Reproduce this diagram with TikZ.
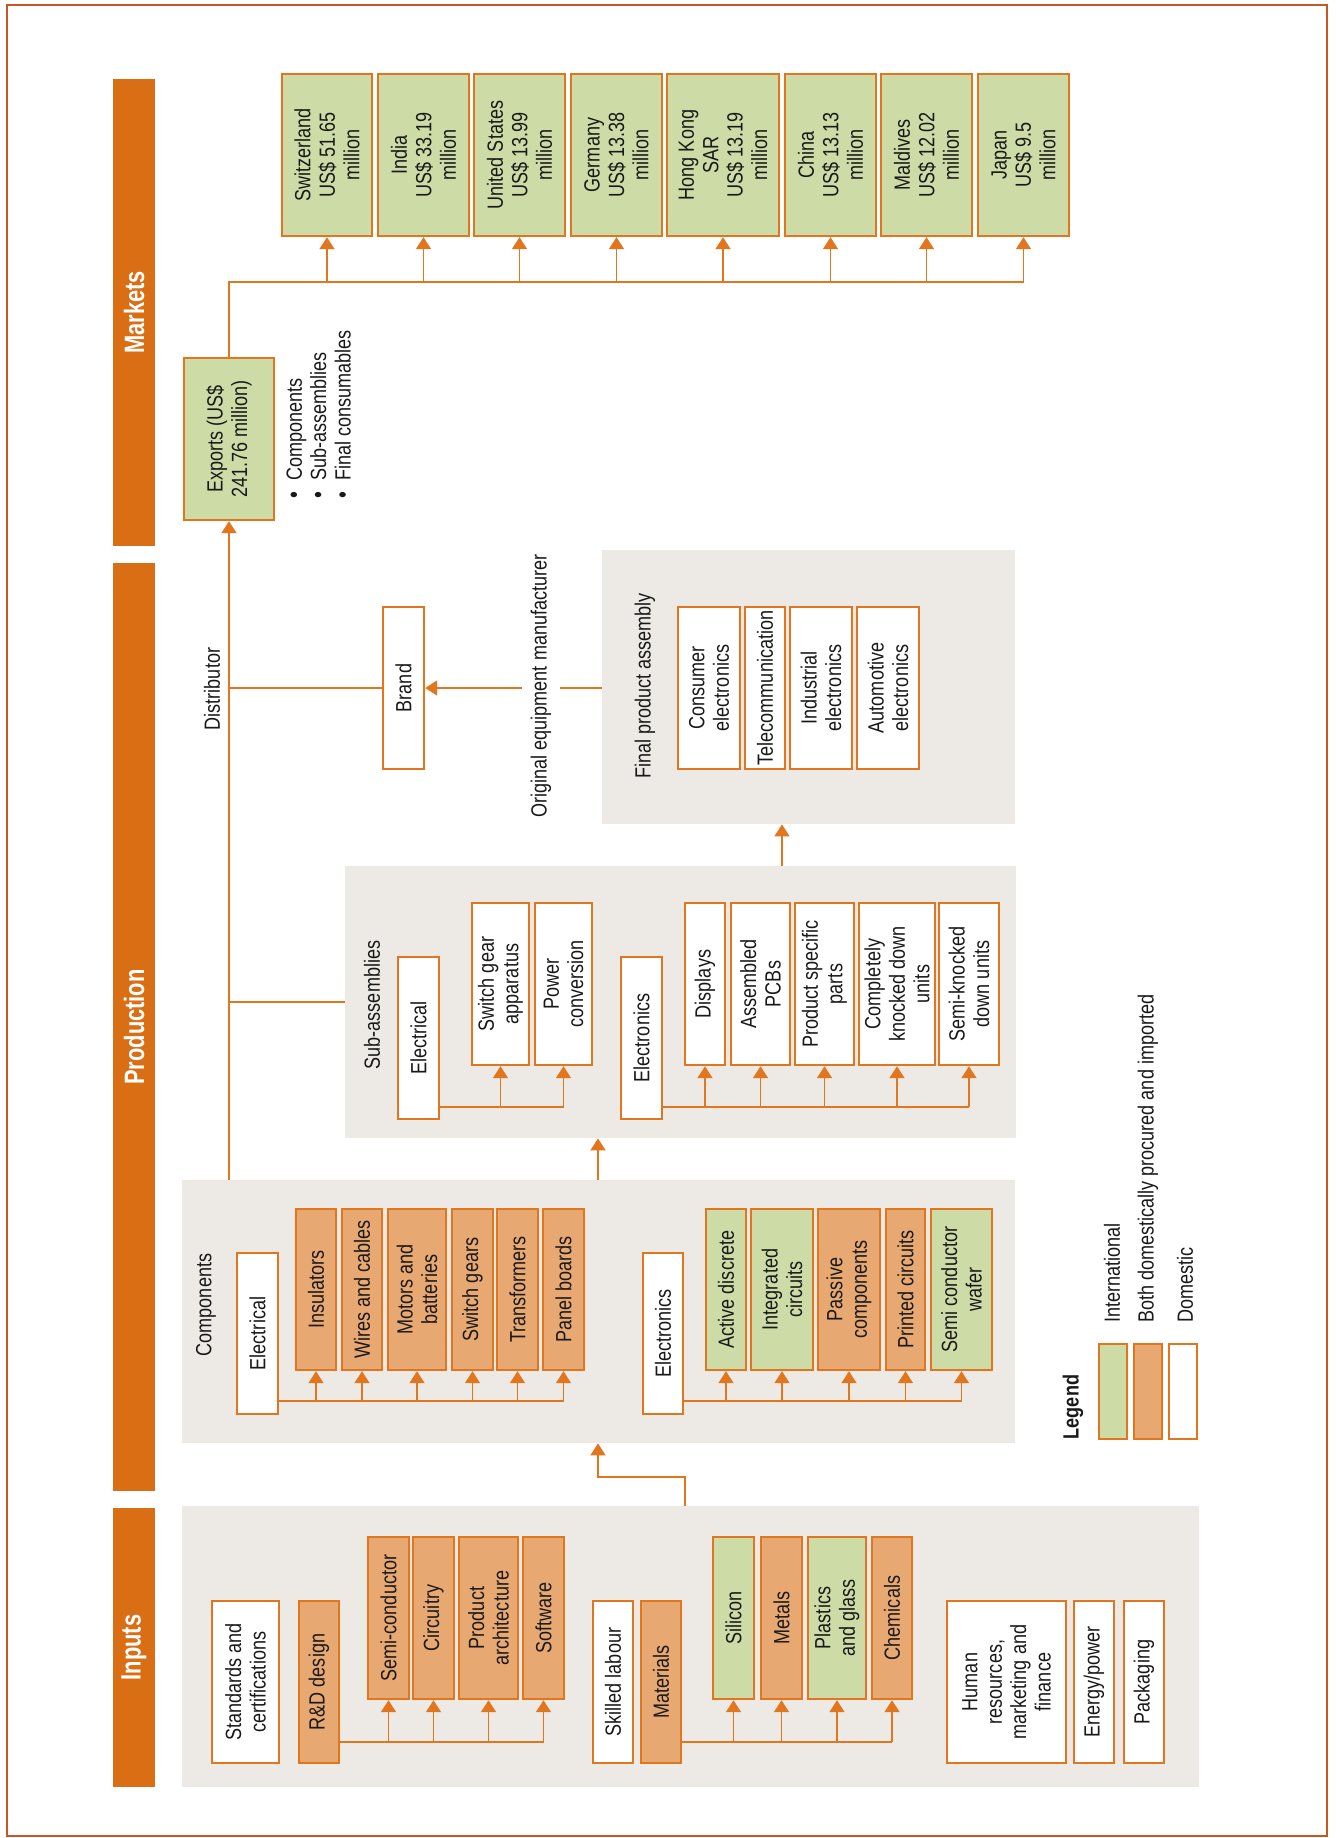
\documentclass[tikz,border=0pt]{standalone}
\usepackage{fontspec}
\setmainfont{Liberation Sans}[FakeStretch=0.82]
\newfontfamily\bandfont{Liberation Sans}[FakeStretch=0.78]
\usetikzlibrary{arrows.meta}
\definecolor{ora}{RGB}{226,118,30}
\definecolor{bandc}{RGB}{217,110,20}
\definecolor{frm}{RGB}{200,88,35}
\definecolor{grn}{RGB}{205,220,166}
\definecolor{org}{RGB}{232,168,114}
\definecolor{pnl}{RGB}{237,234,229}
\definecolor{txt}{RGB}{25,25,25}
\newcommand{\bx}[7]{\node[#6, minimum width={(#5-#3)*0.5pt}, minimum height={(#4-#2)*0.5pt}] (#1) at ({(#2+#4)/2},{(#3+#5)/2}) {#7};}
\newcommand{\pn}[5]{\node[panel, minimum width={(#4-#2)*0.5pt}, minimum height={(#5-#3)*0.5pt}] (#1) at ({(#2+#4)/2},{(#3+#5)/2}) {};}
\tikzset{
 txtf/.style={font=\fontsize{11}{12.2}\selectfont, text=txt},
 bxs/.style={draw=ora, line width=1.2pt, rotate=90, inner sep=0pt, align=center, txtf},
 wb/.style={bxs, fill=white},
 gb/.style={bxs, fill=grn},
 ob/.style={bxs, fill=org},
 panel/.style={fill=pnl, inner sep=0pt},
 bandn/.style={fill=bandc, inner sep=0pt, rotate=90, text=white, font=\bandfont\bfseries\fontsize{14}{16}\selectfont},
 conn/.style={draw=ora, line width=0.8pt},
 arr/.style={conn, -{Triangle[length=6pt,width=7.5pt]}},
 lbl/.style={rotate=90, align=center, inner sep=0pt, txtf},
}
\begin{document}
\begin{tikzpicture}[x=0.5pt,y=-0.5pt]
\useasboundingbox (0,0) rectangle (1335,1838);
\fill[white] (0,0) rectangle (1335,1838);
\draw[draw=frm, line width=1.2pt] (7,5) rectangle (1327,1836);

% bands
\bx{bmk}{113}{79}{155}{546}{bandn}{Markets}
\bx{bpr}{113}{563}{155}{1491}{bandn}{Production}
\bx{bin}{113}{1508}{155}{1787}{bandn}{Inputs}

% panels
\pn{pfin}{602}{550}{1015}{824}
\pn{psub}{345}{866}{1016}{1138}
\pn{pcomp}{182}{1180}{1015}{1443}
\pn{pin}{182}{1506}{1199}{1787}

% markets
\bx{ch}{282}{74}{372}{236}{gb}{Switzerland\\US\$ 51.65\\million}
\bx{ind}{378}{74}{469}{236}{gb}{India\\US\$ 33.19\\million}
\bx{us}{474}{74}{565}{236}{gb}{United States\\US\$ 13.99\\million}
\bx{de}{571}{74}{662}{236}{gb}{Germany\\US\$ 13.38\\million}
\bx{hk}{667}{74}{779}{236}{gb}{Hong Kong\\SAR\\US\$ 13.19\\million}
\bx{cn}{785}{74}{876}{236}{gb}{China\\US\$ 13.13\\million}
\bx{mv}{881}{74}{972}{236}{gb}{Maldives\\US\$ 12.02\\million}
\bx{jp}{978}{74}{1069}{236}{gb}{Japan\\US\$ 9.5\\million}
\bx{exp}{184}{358}{274}{520}{gb}{Exports (US\$\\241.76 million)}
\node[lbl, anchor=north west, align=left] (bul) at (286,499) {{\large\textbullet}\enspace Components\\{\large\textbullet}\enspace Sub-assemblies\\{\large\textbullet}\enspace Final consumables};

% production: final
\bx{brand}{383}{607}{424}{769}{wb}{Brand}
\node[lbl] (finl) at (645,686) {Final product assembly};
\bx{cons}{678}{607}{740}{769}{wb}{Consumer\\electronics}
\bx{tele}{745}{607}{785}{769}{wb}{Telecommunication}
\bx{indu}{790}{607}{852}{769}{wb}{Industrial\\electronics}
\bx{auto}{857}{607}{919}{769}{wb}{Automotive\\electronics}

% sub-assemblies
\node[lbl] (subl) at (372,1005) {Sub-assemblies};
\bx{sel}{398}{957}{439}{1119}{wb}{Electrical}
\bx{swa}{472}{903}{529}{1065}{wb}{Switch gear\\apparatus}
\bx{pwc}{535}{903}{592}{1065}{wb}{Power\\conversion}
\bx{sen}{621}{957}{662}{1119}{wb}{Electronics}
\bx{dsp}{685}{903}{725}{1065}{wb}{Displays}
\bx{pcb}{731}{903}{790}{1065}{wb}{Assembled\\PCBs}
\bx{psp}{795}{903}{854}{1065}{wb}{Product specific\\parts}
\bx{ckd}{859}{903}{935}{1065}{wb}{Completely\\knocked down\\units}
\bx{skd}{939}{903}{999}{1065}{wb}{Semi-knocked\\down units}

% components
\node[lbl] (compl) at (206,1305) {Components};
\bx{cel}{237}{1253}{278}{1414}{wb}{Electrical}
\bx{ins}{296}{1209}{336}{1370}{ob}{Insulators}
\bx{wir}{342}{1209}{382}{1370}{ob}{Wires and cables}
\bx{mot}{388}{1209}{446}{1370}{ob}{Motors and\\batteries}
\bx{swg}{452}{1209}{493}{1370}{ob}{Switch gears}
\bx{trf}{497}{1209}{538}{1370}{ob}{Transformers}
\bx{pnb}{543}{1209}{584}{1370}{ob}{Panel boards}
\bx{cen}{643}{1253}{683}{1414}{wb}{Electronics}
\bx{act}{706}{1209}{746}{1370}{gb}{Active discrete}
\bx{ic}{751}{1209}{813}{1370}{gb}{Integrated\\circuits}
\bx{pas}{818}{1209}{880}{1370}{ob}{Passive\\components}
\bx{prc}{886}{1209}{925}{1370}{ob}{Printed circuits}
\bx{scw}{931}{1209}{992}{1370}{gb}{Semi conductor\\wafer}

% inputs
\bx{std}{212}{1601}{279}{1763}{wb}{Standards and\\certifications}
\bx{rd}{299}{1601}{339}{1763}{ob}{R\&D design}
\bx{smc}{368}{1537}{409}{1699}{ob}{Semi-conductor}
\bx{cir}{413}{1537}{454}{1699}{ob}{Circuitry}
\bx{par}{459}{1537}{518}{1699}{ob}{Product\\architecture}
\bx{sof}{523}{1537}{564}{1699}{ob}{Software}
\bx{skl}{593}{1601}{633}{1763}{wb}{Skilled labour}
\bx{mat}{641}{1601}{681}{1763}{ob}{Materials}
\bx{sil}{713}{1537}{754}{1699}{gb}{Silicon}
\bx{met}{761}{1537}{802}{1699}{ob}{Metals}
\bx{pla}{808}{1537}{866}{1699}{gb}{Plastics\\and glass}
\bx{chm}{872}{1537}{912}{1699}{ob}{Chemicals}
\bx{hr}{947}{1601}{1066}{1763}{wb}{Human\\resources,\\marketing and\\finance}
\bx{enp}{1074}{1601}{1114}{1763}{wb}{Energy/power}
\bx{pkg}{1124}{1601}{1164}{1763}{wb}{Packaging}

% legend
\node[lbl, font=\bfseries\fontsize{11}{12.2}\selectfont] (legt) at (1073,1407) {Legend};
\bx{lg1}{1099}{1344}{1127}{1439}{gb}{}
\bx{lg2}{1134}{1344}{1162}{1439}{ob}{}
\bx{lg3}{1169}{1344}{1197}{1439}{wb}{}
\node[lbl, anchor=west] (lt1) at (1112,1323) {International};
\node[lbl, anchor=west] (lt2) at (1148,1323) {Both domestically procured and imported};
\node[lbl, anchor=west] (lt3) at (1185,1323) {Domestic};

% helper coordinates
\coordinate (busM) at (0,282);
\coordinate (busS) at (0,1107);
\coordinate (busC) at (0,1401);
\coordinate (busI) at (0,1742);
\coordinate (a1) at (782,0);
\coordinate (a2) at (598,0);
\coordinate (k1) at (685,1477);
\coordinate (k2) at (598,1477);

% markets connectors
\draw[conn] (exp.east) -- (exp.east |- busM) -- (jp.west |- busM);
\foreach \n in {ch,ind,us,de,hk,cn,mv,jp} \draw[arr] (\n.west |- busM) -- (\n.west);

% distributor
\draw[arr] (exp.west |- pcomp.north) -- (exp.west);
\draw[conn] (exp.west |- brand.north) -- (brand.north);
\draw[conn] (exp.west |- psub.west) -- (psub.west);
\node[lbl] (distl) at (212,689) {Distributor};

% OEM
\draw[arr] (pfin.west |- brand.south) -- (brand.south);
\node[lbl, fill=white, inner xsep=1pt, inner ysep=4.5pt] (oeml) at (541,686) {Original equipment manufacturer};

% panel flows
\draw[arr] (psub.north -| a1) -- (pfin.south -| a1);
\draw[arr] (pcomp.north -| a2) -- (psub.south -| a2);
\draw[arr] (pin.north -| k1) -- (k1) -- (k2) -- (pcomp.south -| k2);

% sub-assembly buses
\draw[conn] (sel.south |- busS) -- (pwc.west |- busS);
\foreach \n in {swa,pwc} \draw[arr] (\n.west |- busS) -- (\n.west);
\draw[conn] (sen.south |- busS) -- (skd.west |- busS);
\foreach \n in {dsp,pcb,psp,ckd,skd} \draw[arr] (\n.west |- busS) -- (\n.west);

% component buses
\draw[conn] (cel.south |- busC) -- (pnb.west |- busC);
\foreach \n in {ins,wir,mot,swg,trf,pnb} \draw[arr] (\n.west |- busC) -- (\n.west);
\draw[conn] (cen.south |- busC) -- (scw.west |- busC);
\foreach \n in {act,ic,pas,prc,scw} \draw[arr] (\n.west |- busC) -- (\n.west);

% input buses
\draw[conn] (rd.south |- busI) -- (sof.west |- busI);
\foreach \n in {smc,cir,par,sof} \draw[arr] (\n.west |- busI) -- (\n.west);
\draw[conn] (mat.south |- busI) -- (chm.west |- busI);
\foreach \n in {sil,met,pla,chm} \draw[arr] (\n.west |- busI) -- (\n.west);
\end{tikzpicture}
\end{document}
